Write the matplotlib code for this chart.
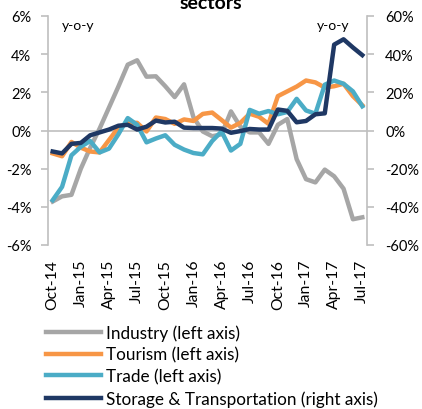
import matplotlib
matplotlib.use("Agg")
import matplotlib.pyplot as plt
import numpy as np

plt.rcParams['font.family'] = ['Lato', 'DejaVu Sans']

months = ["Oct-14", "Nov-14", "Dec-14", "Jan-15", "Feb-15", "Mar-15", "Apr-15", "May-15",
          "Jun-15", "Jul-15", "Aug-15", "Sep-15", "Oct-15", "Nov-15", "Dec-15", "Jan-16",
          "Feb-16", "Mar-16", "Apr-16", "May-16", "Jun-16", "Jul-16", "Aug-16", "Sep-16",
          "Oct-16", "Nov-16", "Dec-16", "Jan-17", "Feb-17", "Mar-17", "Apr-17", "May-17",
          "Jun-17", "Jul-17"]

industry = [-3.72, -3.45, -3.37, -2.0, -0.9, 0.1, 1.2, 2.3, 3.45, 3.68, 2.82, 2.84, 2.32, 1.75,
            2.42, 0.7, -0.05, -0.3, -0.2, 1.0, 0.2, -0.1, -0.1, -0.7, 0.3, 0.6, -1.5, -2.55,
            -2.72, -2.05, -2.4, -3.05, -4.65, -4.55]
tourism = [-1.2, -1.35, -0.6, -0.9, -1.1, -1.15, -0.5, 0.15, 0.4, 0.4, -0.05, 0.68, 0.6, 0.35,
           0.58, 0.5, 0.87, 0.94, 0.55, 0.15, 0.4, 0.88, 0.72, 0.35, 1.8, 2.05, 2.3, 2.62,
           2.52, 2.25, 2.32, 2.45, 1.8, 1.32]
trade = [-3.65, -2.95, -1.3, -0.85, -0.55, -1.15, -0.95, -0.2, 0.65, 0.3, -0.62, -0.42, -0.25,
         -0.75, -1.0, -1.18, -1.25, -0.55, -0.05, -1.05, -0.7, 1.08, 0.88, 1.02, 0.85, 0.97,
         1.66, 1.05, 0.88, 2.4, 2.62, 2.45, 2.05, 1.27]
storage = [-11, -12, -7, -6.5, -2.5, -1, 0.5, 2.5, 3, 0.5, 2, 5.2, 4.2, 4.6, 1.5, 1.3, 1.3, 1.3,
           1.0, -1.2, -0.3, 0.8, 0.5, 0.5, 11, 10.3, 4.3, 5, 8.5, 9, 45, 47.8, 43.5, 39.5]

left_ticks = [-6, -4, -2, 0, 2, 4, 6]
right_ticks = [-60, -40, -20, 0, 20, 40, 60]
tick_months = ["Oct-14", "Jan-15", "Apr-15", "Jul-15", "Oct-15", "Jan-16", "Apr-16",
               "Jul-16", "Oct-16", "Jan-17", "Apr-17", "Jul-17"]

c_ind = "#A6A6A6"
c_tou = "#F79646"
c_tra = "#4BACC6"
c_sto = "#1F3864"
axis_c = "#BFBFBF"
fs_y = 10.5
fs_x = 11.3
fs_leg = 12.3

fig = plt.figure(figsize=(4.22, 4.10), dpi=100)
ax = fig.add_axes([48/422, 1-246/410, 319/422, 229/410])
ax2 = ax.twinx()

x = np.arange(len(months))
lw = 3.2
ax.axhline(0, color=axis_c, lw=1.2, zorder=1)
l1, = ax.plot(x, industry, color=c_ind, lw=lw, label="Industry (left axis)", zorder=2)
l2, = ax.plot(x, tourism, color=c_tou, lw=lw, label="Tourism (left axis)", zorder=3)
l3, = ax.plot(x, trade, color=c_tra, lw=lw, label="Trade (left axis)", zorder=4)
l4, = ax2.plot(x, storage, color=c_sto, lw=lw, label="Storage & Transportation (right axis)")

ax.set_xlim(-0.5, len(months) - 0.5)
ax.set_ylim(-6, 6)
ax2.set_ylim(-60, 60)
ax.set_yticks(left_ticks)
ax.set_yticklabels([f"{v}%" for v in left_ticks])
ax2.set_yticks(right_ticks)
ax2.set_yticklabels([f"{v}%" for v in right_ticks])

pos = [months.index(m) for m in tick_months]
ax.set_xticks(pos)
ax.set_xticklabels(tick_months, rotation=90)
ax.tick_params(axis='x', length=0, pad=10, labelsize=fs_x)

for a in (ax, ax2):
    for s in a.spines.values():
        s.set_visible(False)
ax.spines['left'].set_visible(True)
ax.spines['left'].set_color(axis_c)
ax.spines['left'].set_linewidth(1.2)
ax2.spines['right'].set_visible(True)
ax2.spines['right'].set_color(axis_c)
ax2.spines['right'].set_linewidth(1.2)
ax.tick_params(axis='y', direction='out', length=5, width=1.2, color=axis_c, pad=7, labelsize=fs_y)
ax2.tick_params(axis='y', direction='out', length=5, width=1.2, color=axis_c, pad=8, labelsize=fs_y)

ax.text(0.045, 0.985, "y-o-y", transform=ax.transAxes, fontsize=10, va='top', ha='left')
ax.text(0.945, 0.985, "y-o-y", transform=ax.transAxes, fontsize=10, va='top', ha='right')

fig.text(0.5, 1 - 9/410, "sectors", ha='center', va='baseline', fontsize=14, fontweight='bold')

fig.legend(handles=[l1, l2, l3, l4], loc='upper left', bbox_to_anchor=(46/422, 1 - 325/410),
           frameon=False, fontsize=fs_leg, handlelength=3.2, handletextpad=0.3,
           labelspacing=0.34, borderaxespad=0, borderpad=0)

fig.savefig("out.png", dpi=100)
